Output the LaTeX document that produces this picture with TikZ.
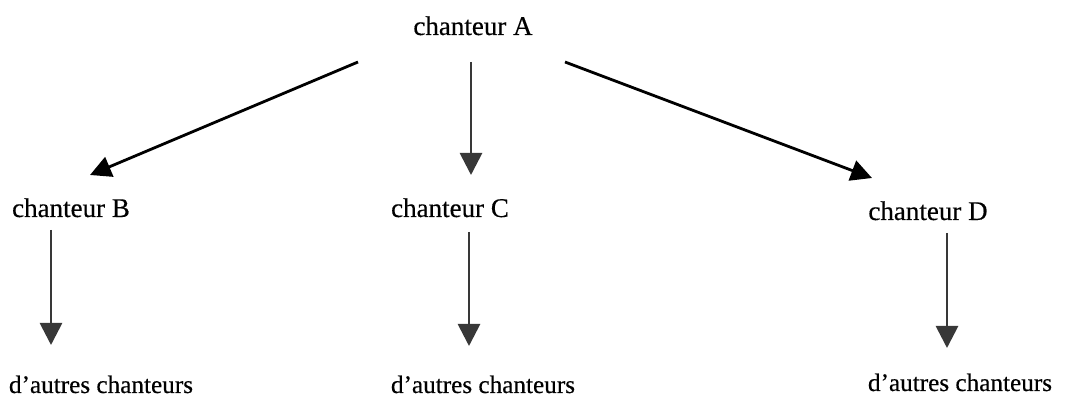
\documentclass[tikz,border=0pt]{standalone}
\usepackage{fontspec}
\setmainfont{Liberation Serif}
\newfontfamily\lblfont{Liberation Serif}[FakeBold=0.4]
\usetikzlibrary{arrows.meta}
\tikzset{
  lbl/.style={anchor=base, inner sep=0pt, font=\lblfont\fontsize{27}{30}\selectfont},
  lbl2/.style={anchor=base, inner sep=0pt, font=\lblfont\fontsize{25.2}{30}\selectfont},
  diag/.style={line width=2.8pt, black, -{Triangle[width=21pt,length=21pt]}},
  vert/.style={line width=2.8pt, black!78, -{Triangle[width=22pt,length=22pt]}}
}
\begin{document}
\begin{tikzpicture}[x=1pt,y=-1pt]
\useasboundingbox (0,0) rectangle (1069,403);
\node[lbl] (A) at (473,35) {chanteur A};
\node[lbl] (B) at (71,217) {chanteur B};
\node[lbl] (C) at (450,217) {chanteur C};
\node[lbl] (D) at (928,220) {chanteur D};
\node[lbl2] (Bo) at (101,393) {d’autres chanteurs};
\node[lbl2] (Co) at (483,393) {d’autres chanteurs};
\node[lbl2] (Do) at (960,391) {d’autres chanteurs};
\draw[diag] ([xshift=-115pt,yshift=-27pt]A.base) -- ([xshift=19pt,yshift=42pt]B.base);
\draw[vert] ([xshift=-2pt,yshift=-27pt]A.base) -- ([xshift=21pt,yshift=42pt]C.base);
\draw[diag] ([xshift=92pt,yshift=-27pt]A.base) -- ([xshift=-56pt,yshift=42pt]D.base);
\draw[vert] ([xshift=-20pt,yshift=-13pt]B.base) -- ([xshift=-50pt,yshift=48pt]Bo.base);
\draw[vert] ([xshift=19pt,yshift=-15pt]C.base) -- ([xshift=-14pt,yshift=47pt]Co.base);
\draw[vert] ([xshift=19pt,yshift=-13pt]D.base) -- ([xshift=-13pt,yshift=43pt]Do.base);
\end{tikzpicture}
\end{document}
